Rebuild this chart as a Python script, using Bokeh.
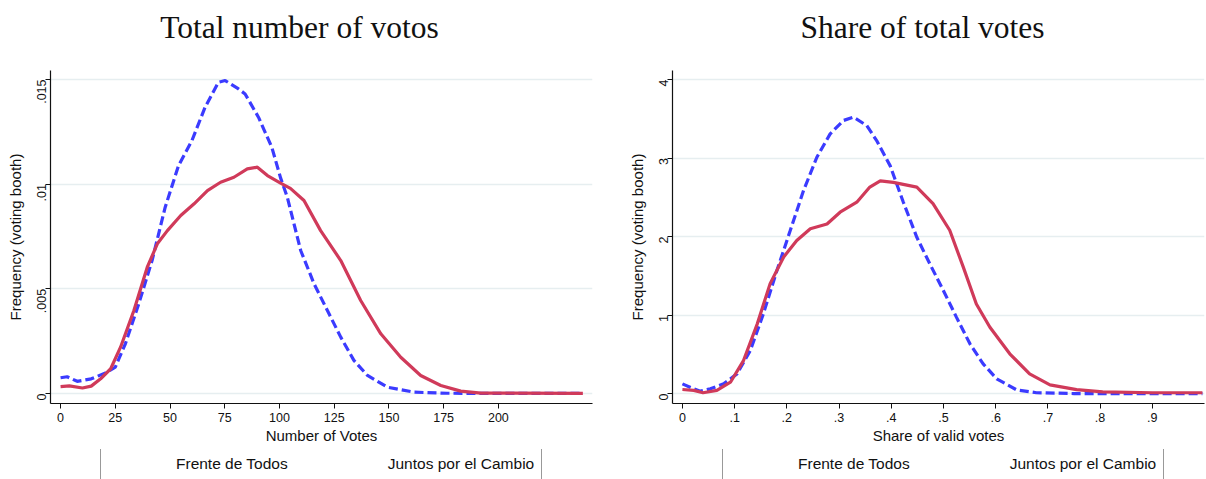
import math

from bokeh.plotting import figure
from bokeh.models import Range1d, FixedTicker, Legend, LegendItem, Label
from bokeh.embed import file_html
from bokeh.resources import INLINE

# Kernel density of votes per voting booth
votes_fdt = [0, 3, 7.6, 14, 21, 25, 29.6, 35.7, 41.8, 47.8, 53.9, 60, 66, 72.1, 75.2,
             81.3, 84.3, 90.4, 96.5, 100.5, 103.6, 109.7, 115.8, 121.9, 128, 134, 140.2,
             149.3, 161.5, 176.7, 200, 238.6]
dens_votes_fdt = [0.00075, 0.0008, 0.00058, 0.0007, 0.0010, 0.00126, 0.00237, 0.00428,
                  0.00635, 0.0089, 0.01089, 0.01208, 0.01367, 0.01487, 0.01495, 0.01455,
                  0.01431, 0.0132, 0.01176, 0.0103, 0.00937, 0.00683, 0.00524, 0.00396,
                  0.00269, 0.00158, 0.00086, 0.0003, 0.00006, 0.00001, 0.0, 0.0]

votes_jxc = [0, 4, 10, 14, 18.3, 22.9, 27.4, 33.5, 39.6, 44.2, 48.8, 54.9, 61, 67.1, 73.1,
             79.2, 85.3, 89.9, 94.5, 100.5, 105, 111.2, 118.8, 128, 137.1, 146.3, 155.4,
             164.5, 173.7, 182.8, 192, 238.6]
dens_votes_jxc = [0.00033, 0.00036, 0.00026, 0.00035, 0.0007, 0.00118, 0.00221, 0.00396,
                  0.00603, 0.00715, 0.00778, 0.0085, 0.00906, 0.00969, 0.01009, 0.01033,
                  0.01073, 0.01081, 0.01041, 0.01005, 0.0098, 0.00922, 0.00778, 0.00635,
                  0.00444, 0.00285, 0.00173, 0.00086, 0.00038, 0.00011, 0.00002, 0.0]

# Kernel density of the share of valid votes
share_fdt = [0, 0.0217, 0.0344, 0.0535, 0.079, 0.1045, 0.13, 0.155, 0.181, 0.2065, 0.232,
             0.2575, 0.283, 0.3084, 0.3276, 0.353, 0.372, 0.398, 0.423, 0.449, 0.474, 0.5,
             0.525, 0.551, 0.576, 0.602, 0.64, 0.678, 0.75, 0.996]
dens_share_fdt = [0.123, 0.06, 0.03, 0.06, 0.123, 0.25, 0.548, 1.015, 1.567, 2.076, 2.586,
                  3.01, 3.308, 3.478, 3.52, 3.414, 3.223, 2.9, 2.44, 1.99, 1.65, 1.31, 0.97,
                  0.63, 0.378, 0.187, 0.047, 0.01, 0.0, 0.0]

share_jxc = [0, 0.0217, 0.0395, 0.066, 0.092, 0.117, 0.1434, 0.168, 0.194, 0.219, 0.245,
             0.277, 0.302, 0.334, 0.359, 0.379, 0.404, 0.449, 0.48, 0.512, 0.538, 0.563,
             0.589, 0.627, 0.665, 0.704, 0.755, 0.805, 0.9, 0.996]
dens_share_jxc = [0.051, 0.04, 0.01, 0.04, 0.144, 0.42, 0.888, 1.4, 1.74, 1.95, 2.1, 2.16,
                  2.31, 2.437, 2.63, 2.71, 2.69, 2.63, 2.42, 2.08, 1.61, 1.14, 0.845, 0.506,
                  0.25, 0.11, 0.05, 0.02, 0.01, 0.01]

series_names = ["Frente de Todos", "Juntos por el Cambio"]

votes_xticks = [0, 25, 50, 75, 100, 125, 150, 175, 200]
votes_yticks = [0, 0.005, 0.01, 0.015]
votes_ylabels = ["0", ".005", ".01", ".015"]
share_xticks = [0, 0.1, 0.2, 0.3, 0.4, 0.5, 0.6, 0.7, 0.8, 0.9]
share_xlabels = ["0", ".1", ".2", ".3", ".4", ".5", ".6", ".7", ".8", ".9"]
share_yticks = [0, 1, 2, 3, 4]

BLUE = "#3b3bff"
RED = "#d03a5a"
SANS = "Liberation Sans"
SERIF = "Liberation Serif"
PANEL_W = 603

# Six roots on a two-column grid: titles, plots, legends
PAGE_TEMPLATE = """
{% block postamble %}
<style>
  html, body { height: auto !important; margin: 0; padding: 0; overflow: hidden; }
  body { display: grid !important; grid-template-columns: 603px 603px;
         align-items: start; justify-items: start; }
</style>
{% endblock %}
"""


def bare_figure(height, xr, yr):
    f = figure(width=PANEL_W, height=height, output_backend="svg", toolbar_location=None,
               x_range=Range1d(*xr), y_range=Range1d(*yr),
               x_axis_location=None, y_axis_location=None, min_border=0)
    f.outline_line_color = None
    f.grid.visible = False
    f.background_fill_color = "white"
    f.border_fill_color = "white"
    return f


def make_title(text, center_x):
    t = bare_figure(42, (0, PANEL_W), (0, 42))
    t.add_layout(Label(x=center_x, y=15, text=text, text_align="center",
                       text_baseline="alphabetic", text_font=SERIF,
                       text_font_size="31.5px", text_color="#111111"))
    return t


def make_legend(left):
    g = bare_figure(30, (0, 1), (0, 1))
    s1 = g.line(x=[], y=[], line_color=BLUE, line_width=3.2, line_dash="9 4")
    s2 = g.line(x=[], y=[], line_color=RED, line_width=3.2)
    legend = Legend(items=[LegendItem(label=series_names[0], renderers=[s1]),
                           LegendItem(label=series_names[1], renderers=[s2])],
                    orientation="horizontal", location=(left, -2),
                    glyph_width=58, glyph_height=16, label_height=16,
                    label_standoff=10, spacing=32, padding=7, margin=0,
                    label_text_font=SANS, label_text_font_size="15.5px",
                    label_text_color="#111111",
                    border_line_color="#333333", border_line_width=1,
                    background_fill_color="white", background_fill_alpha=1.0)
    g.add_layout(legend, "center")
    return g


def make_panel(xlabel, xr, yr, xticks, xlabels, yticks, ylabels,
               xa, ya, xb, yb, border_left, border_right):
    p = figure(width=PANEL_W, height=407, output_backend="svg", toolbar_location=None,
               x_range=Range1d(*xr), y_range=Range1d(*yr),
               min_border_left=border_left, min_border_right=border_right,
               min_border_top=28, min_border_bottom=46)
    p.outline_line_color = None
    p.background_fill_color = "white"
    p.border_fill_color = "white"

    p.xgrid.visible = False
    p.ygrid.ticker = FixedTicker(ticks=yticks)
    p.ygrid.grid_line_color = "#e6eef0"
    p.ygrid.grid_line_width = 1.5

    for ax in (p.xaxis[0], p.yaxis[0]):
        ax.axis_line_color = "#111111"
        ax.axis_line_width = 1.2
        ax.major_tick_line_color = "#111111"
        ax.major_tick_in = 0
        ax.major_tick_out = 5
        ax.minor_tick_line_color = None
        ax.major_label_text_font = SANS
        ax.major_label_text_font_size = "12.5px"
        ax.major_label_text_color = "#111111"
        ax.axis_label_text_font = SANS
        ax.axis_label_text_font_size = "15px"
        ax.axis_label_text_font_style = "normal"
        ax.axis_label_text_color = "#111111"

    p.xaxis[0].ticker = FixedTicker(ticks=xticks)
    p.xaxis[0].major_label_overrides = {t: l for t, l in zip(xticks, xlabels)}
    p.xaxis[0].axis_label = xlabel
    p.xaxis[0].major_label_standoff = 4
    p.xaxis[0].axis_label_standoff = 2

    p.yaxis[0].ticker = FixedTicker(ticks=yticks)
    p.yaxis[0].major_label_overrides = {t: l for t, l in zip(yticks, ylabels)}
    p.yaxis[0].major_label_orientation = math.pi / 2
    p.yaxis[0].axis_label = "Frequency (voting booth)"
    p.yaxis[0].major_label_standoff = 4
    p.yaxis[0].axis_label_standoff = 6

    p.line(xa, ya, line_color=BLUE, line_width=3.2, line_dash="9 4")
    p.line(xb, yb, line_color=RED, line_width=3.2)
    return p


t1 = make_title("Total number of votos", 299)
t2 = make_title("Share of total votes", 319)

p1 = make_panel("Number of Votes",
                (-4.6, 243), (-0.00048, 0.01543),
                votes_xticks, [str(t) for t in votes_xticks],
                votes_yticks, votes_ylabels,
                votes_fdt, dens_votes_fdt, votes_jxc, dens_votes_jxc, 50, 11)

p2 = make_panel("Share of valid votes",
                (-0.019, 1.0), (-0.127, 4.115),
                share_xticks, share_xlabels,
                share_yticks, [str(t) for t in share_yticks],
                share_fdt, dens_share_fdt, share_jxc, dens_share_jxc, 69, 2)

g1 = make_legend(100)
g2 = make_legend(119)

open("out.html", "w").write(
    file_html([t1, t2, p1, p2, g1, g2], INLINE, template=PAGE_TEMPLATE))
